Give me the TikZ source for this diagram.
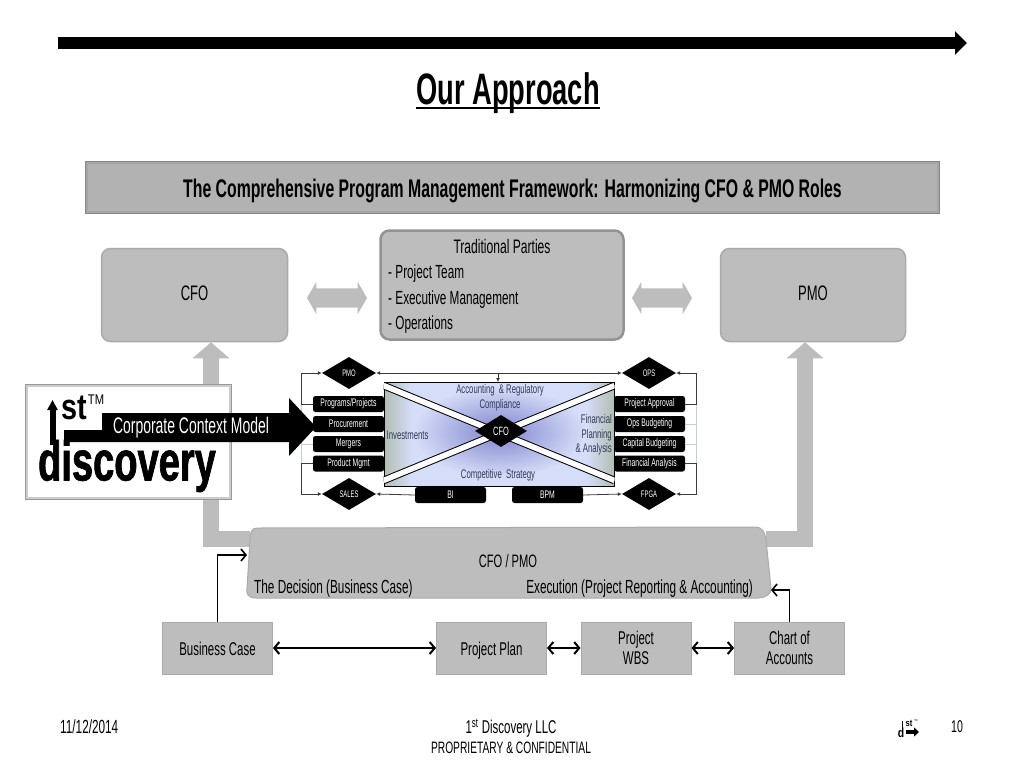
\documentclass[tikz,border=0pt]{standalone}
\usepackage{fontspec}
\setmainfont[FakeStretch=0.62]{Liberation Sans}
\newfontfamily\logofont[FakeStretch=0.8]{Liberation Sans}
\newfontfamily\namefont[FakeStretch=0.68,BoldFeatures={FakeBold=1.2}]{Liberation Sans}
\usepackage{tikz}
\usetikzlibrary{shapes, arrows}
\usetikzlibrary{arrows.meta,fadings}
\usetikzlibrary{positioning}
\newcommand{\fsz}[1]{\fontsize{#1}{#1}\selectfont}
\definecolor{boxgray}{RGB}{189,189,189}
\definecolor{bannergray}{RGB}{178,178,178}
\definecolor{edgegray}{RGB}{170,170,170}
\definecolor{panelink}{RGB}{48,58,90}
\definecolor{panelside}{RGB}{178,190,178}
\definecolor{panelblue}{RGB}{214,221,248}
\definecolor{panelglow}{RGB}{128,132,205}
\definecolor{wiregray}{RGB}{60,60,60}
\definecolor{faintwire}{RGB}{195,210,200}
\pgfdeclarehorizontalshading{panelshade}{100bp}{color(0bp)=(panelside); color(25bp)=(panelside); color(31bp)=(panelblue); color(69bp)=(panelblue); color(75bp)=(panelside); color(100bp)=(panelside)}
\tikzfading[name=glowfade,inner color=transparent!0,outer color=transparent!100]
\tikzset{
	graybox/.style={draw=edgegray,line width=1.5pt,fill=boxgray,rounded corners=9pt,inner sep=0pt,font=\fsz{21}},
	flatbox/.style={draw=edgegray,line width=1pt,fill=boxgray,inner sep=0pt,minimum height=52pt,minimum width=110pt,align=center,font=\fsz{18.5}},
	sidearrow/.style={double arrow,fill=boxgray,inner sep=0pt,minimum height=60pt,double arrow head extend=6.5pt,double arrow head indent=0pt,double arrow tip angle=120},
	bigwire/.style={draw=boxgray,line width=16pt,-{Triangle[length=16pt,width=36pt]}},
	blackbox/.style={fill=black,text=white,rounded corners=2.5pt,minimum width=71pt,minimum height=16pt,inner sep=0pt,font=\fsz{11}},
	tag/.style={diamond,fill=black,text=white,minimum width=54pt,minimum height=32pt,inner sep=0pt,aspect=1.7,font=\fsz{9.5}},
	wire/.style={draw=wiregray,line width=0.8pt,-{Latex[length=4pt,width=4pt]}},
	wirefaint/.style={draw=faintwire,line width=0.7pt},
	linkarrow/.style={draw=black,line width=1.6pt,-{Straight Barb[length=5pt,width=12pt]}},
	bothlink/.style={draw=black,line width=2pt,{Straight Barb[length=5pt,width=12pt]}-{Straight Barb[length=5pt,width=12pt]}},
	partytext/.style={anchor=west,inner sep=0pt,font=\fsz{19}},
	cfopmotext/.style={inner sep=0pt,font=\fsz{19}},
	paneltext/.style={text=panelink,inner sep=0pt,align=center,font=\fsz{12.5}},
	footer/.style={inner sep=0pt,align=center,font=\fsz{17}}
}
\begin{document}
\begin{tikzpicture}[x=1pt,y=-1pt]
	\useasboundingbox (0,0) rectangle (1024,768);

	% header
	\coordinate (rulestart) at (58,43);
	\coordinate (ruleend) at (967,43);
	\draw[line width=12pt,-{Triangle[length=12pt,width=23pt]}] (rulestart) -- (ruleend);
	\node(title) at (508,104) [anchor=base,inner sep=0pt,font=\bfseries\fsz{44}] {Our Approach};
	\draw[line width=2.5pt] ([yshift=5.5pt]title.south west) -- ([yshift=5.5pt]title.south east);
	\node(banner) at (512.5,187.5) [minimum width=853pt,minimum height=51pt,inner sep=0pt,draw=gray!95,line width=2.5pt,fill=bannergray,text height=19pt,text depth=0pt,font=\bfseries\fsz{25.5}] {The Comprehensive Program Management Framework: Harmonizing CFO \& PMO Roles};
	\draw[gray!70,line width=2pt] ([xshift=2.5pt,yshift=2.5pt]banner.south west) rectangle ([xshift=-2.5pt,yshift=-2.5pt]banner.north east);

	% top row
	\node(cfo) at (194.5,295) [graybox,minimum width=186pt,minimum height=93pt] {\raisebox{3pt}{CFO}};
	\node(pmo) at (813,295) [graybox,minimum width=185pt,minimum height=93pt] {\raisebox{3pt}{PMO}};
	\node(parties) at (502,285) [graybox,draw=gray!85,line width=2.5pt,minimum width=243pt,minimum height=109pt] {};
	\node(partiestitle) at (502,247) [inner sep=0pt,font=\fsz{19.5}] {Traditional Parties};
	\node(team) at (388,274) [partytext] {- Project Team};
	\node(exec) at (388,300) [partytext] {- Executive Management};
	\node(ops) at (388,325) [partytext] {- Operations};
	\node(leftarrow) at (337,298) [sidearrow] {\rule{0pt}{19pt}};
	\node(rightarrow) at (662,298) [sidearrow] {\rule{0pt}{19pt}};

	% cfo / pmo
	\coordinate (cfopmoleft) at (250,539);
	\coordinate (cfopmoright) at (766,539);
	\draw[bigwire] (cfopmoleft) -| ([xshift=16.5pt]cfo.south);
	\draw[bigwire] (cfopmoright) -| ([xshift=-8pt]pmo.south);
	\fill[boxgray,draw=edgegray,line width=1pt] (257,528) -- (755,527) .. controls (763,527) and (765,533) .. (766,540) -- (771,588) .. controls (772,594) and (765,598) .. (758,598) -- (256,598) .. controls (248,598) and (246,594) .. (247,588) -- (250,540) .. controls (250,532) and (252,528) .. (257,528) -- cycle;
	\node(cfopmo) at (508,561) [cfopmotext,font=\fsz{18}] {CFO / PMO};
	\node(decision) at (254,589) [cfopmotext,anchor=west] {The Decision (Business Case)};
	\node(execution) at (753,589) [cfopmotext,anchor=east] {Execution (Project Reporting \& Accounting)};
	\coordinate (decisionin) at (247,555);
	\coordinate (executionin) at (771,590);

	% bottom row
	\node(bizcase) at (217.5,648) [flatbox,text height=14pt,text depth=0pt] {Business Case};
	\node(plan) at (491.5,648) [flatbox,text height=14pt,text depth=0pt] {Project Plan};
	\node(wbs) at (636,648) [flatbox] {Project\\[2pt]WBS};
	\node(chart) at (789.5,648) [flatbox] {Chart of\\[2pt]Accounts};
	\draw[bothlink] (bizcase) -- (plan);
	\draw[bothlink] (plan) -- (wbs);
	\draw[bothlink] (wbs) -- (chart);
	\draw[linkarrow] (bizcase.north) |- (decisionin);
	\draw[linkarrow] (chart.north) |- (executionin);

	% context model panel
	\node(panel) at (499,434) [minimum width=230pt,minimum height=104pt,inner sep=0pt,draw=black,line width=1pt,shading=panelshade] {};
	\begin{scope}
		\clip (panel.north west) rectangle (panel.south east);
		\fill[panelglow,path fading=glowfade] (499,432) ellipse (85pt and 45pt);
		\draw[line width=7.5pt] ([yshift=-4pt]panel.north west) -- ([yshift=6pt]panel.south east);
		\draw[white,line width=5.5pt] ([yshift=-4pt]panel.north west) -- ([yshift=6pt]panel.south east);
		\draw[line width=7.5pt] ([yshift=6pt]panel.south west) -- ([yshift=-4pt]panel.north east);
		\draw[white,line width=5.5pt] ([yshift=6pt]panel.south west) -- ([yshift=-4pt]panel.north east);
	\end{scope}
	\node(accounting) at (500,398) [paneltext] {Accounting\ \ \& Regulatory\\[2pt]Compliance};
	\node(investments) at (386.5,435) [paneltext,anchor=west] {Investments};
	\node(planning) at (612,435) [paneltext,anchor=east,align=right] {Financial\\[2pt]Planning\\[2pt]\& Analysis};
	\node(strategy) at (498,475) [paneltext] {Competitive\ \ Strategy};

	\node(centertag) at (501,431) [tag,minimum width=52pt,font=\fsz{12}] {CFO};
	\node(pmotag) at (349,373) [tag] {PMO};
	\node(opstag) at (649,373) [tag] {OPS};
	\node(salestag) at (349,494) [tag] {SALES};
	\node(fpgatag) at (649,494) [tag] {FPGA};

	\node(programs) at (348.5,404) [blackbox] {Programs/Projects};
	\node(procurement) at (348.5,424) [blackbox] {Procurement};
	\node(mergers) at (348.5,444) [blackbox] {Mergers};
	\node(product) at (348.5,463.5) [blackbox] {Product Mgmt};
	\node(approval) at (649.5,404) [blackbox] {Project Approval};
	\node(opsbudget) at (649.5,424) [blackbox] {Ops Budgeting};
	\node(capital) at (649.5,444) [blackbox] {Capital Budgeting};
	\node(analysis) at (649.5,463.5) [blackbox] {Financial Analysis};
	\node(bi) at (450.5,495) [blackbox] {BI};
	\node(bpm) at (547.5,495) [blackbox] {BPM};

	\coordinate (leftrail) at (301,404);
	\coordinate (rightrail) at (696,404);
	\coordinate (leftfoot) at (301,463.5);
	\coordinate (rightfoot) at (696,463.5);
	\coordinate (topwire) at (498,373);
	\coordinate (paneltop) at (498,382);
	\draw[wirefaint] (leftrail) -- (leftfoot);
	\draw[wirefaint] (rightrail) -- (rightfoot);
	\draw[wirefaint] (mergers.west) -- (301,444);
	\draw[wirefaint] (opsbudget.east) -- (696,424);
	\draw[wirefaint] (capital.east) -- (696,444);

	\draw[wire] (programs.west) -- (leftrail) |- (pmotag.west);
	\draw[wire] (product.west) -- (leftfoot) |- (salestag.west);
	\draw[wire] (approval.east) -- (rightrail) |- (opstag.east);
	\draw[wire] (analysis.east) -- (rightfoot) |- (fpgatag.east);
	\draw[wire,{Latex[length=4pt,width=4pt]}-{Latex[length=4pt,width=4pt]}] (pmotag.east) -- (opstag.west);
	\draw[wire] (topwire) -- (paneltop);
	\draw[wire] (bi.west) -- (salestag.east);
	\draw[wire] (bpm.east) -- (fpgatag.west);

	% logo
	\node(logo) at (128,441.5) [minimum width=205pt,minimum height=114pt,inner sep=0pt,draw=gray!80,line width=2pt,fill=white] {};
	\draw[gray!40,line width=2pt] ([xshift=2pt,yshift=2pt]logo.south west) rectangle ([xshift=-2pt,yshift=-2pt]logo.north east);
	\coordinate (stembase) at (52.5,445);
	\coordinate (stemtop) at (52.5,400);
	\draw[line width=6pt,-{Triangle[length=10pt,width=10pt]}] (stembase) -- (stemtop);
	\node(logost) at (74,408) [inner sep=0pt,font=\logofont\bfseries\fsz{36}] {st};
	\node(logotm) at (96,400) [inner sep=0pt,font=\logofont\fsz{14}] {TM};
	\node(logoname) at (127,466) [inner sep=0pt,font=\namefont\bfseries\fsz{56}] {discovery};
	\fill (64,430) -- (102,430) -- (102,413) -- (289,413) -- (289,398) -- (316,427) -- (289,456) -- (289,442) -- (64,442) -- cycle;
	\node(contextmodel) at (191,428) [text=white,inner sep=0pt,font=\fsz{22.5}] {Corporate Context Model};

	% footer
	\node(date) at (60,727) [anchor=west,footer,font=\fsz{19}] {11/12/2014};
	\node(company) at (511,728) [footer,font=\fsz{18.5}] {1\textsuperscript{st} Discovery LLC};
	\node(notice) at (511,748) [footer,font=\fsz{16.5}] {PROPRIETARY \& CONFIDENTIAL};
	\node(pagenum) at (957,727) [footer] {10};
	\node(minist) at (909,723) [inner sep=0pt,font=\logofont\bfseries\fsz{9.5}] {st};
	\node(minitm) at (916,720) [inner sep=0pt,font=\logofont\fsz{3}] {TM};
	\node(minid) at (901,733) [inner sep=0pt,font=\logofont\bfseries\fsz{13}] {d};
	\coordinate (ministem) at (902.5,728);
	\coordinate (ministemtop) at (902.5,721);
	\draw[line width=1pt] (ministem) -- (ministemtop);
	\coordinate (miniarrow) at (906,732);
	\coordinate (miniarrowtip) at (919,732);
	\draw[line width=3.5pt,-{Triangle[length=5pt,width=9pt]}] (miniarrow) -- (miniarrowtip);
\end{tikzpicture}
\end{document}
